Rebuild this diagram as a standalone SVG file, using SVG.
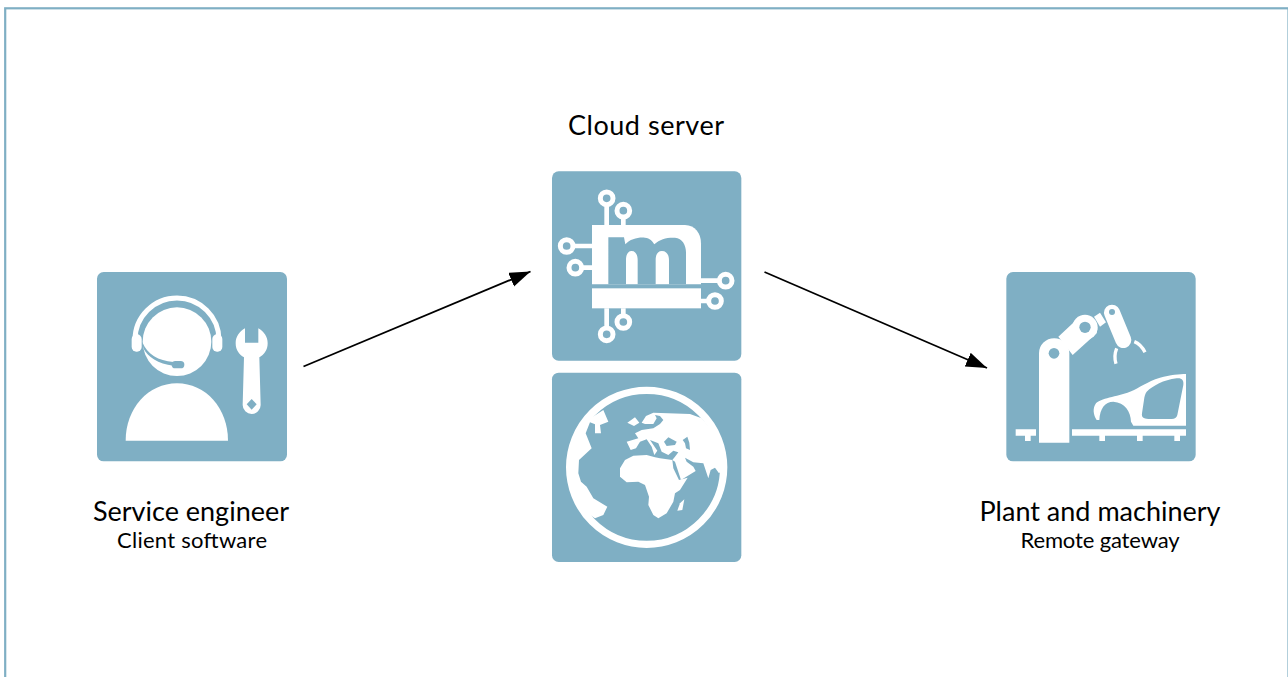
<svg xmlns="http://www.w3.org/2000/svg" width="1288" height="677" viewBox="0 0 1288 677">
<style>
.tile{fill:#7fafc4}
.w{fill:#fff}
.b{fill:#7fafc4}
.t{font-family:"Lato","Liberation Sans",sans-serif;fill:#000;text-anchor:middle}
.t1{font-size:27px}
.t2{font-size:22px}
.tr{stroke:#fff;stroke-width:14;fill:none}
.ring{stroke:#fff;stroke-width:15;fill:#7fafc4}
.cn{stroke:#000;stroke-width:1.8;fill:none;marker-end:url(#ah)}
</style>
<defs>
<marker id="ah" markerUnits="userSpaceOnUse" markerWidth="24" markerHeight="18" refX="21" refY="7.500" orient="auto"><path d="M0 0L21 7.500L0 15Z" fill="#000"/></marker>
</defs>
<rect x="5.200" y="8.300" width="1283.300" height="800" fill="#fff" stroke="#7fafc4" stroke-width="2.200"/>
<g id="connectors">
<line class="cn" x1="303.500" y1="366.500" x2="530.500" y2="271.500"/>
<line class="cn" x1="764.500" y1="272" x2="987" y2="368"/>
</g>
<g id="service-engineer">
<g transform="translate(90 265) scale(.33333)">
<rect class="tile" x="21" y="21" width="570" height="568" rx="20"/>
<path class="w" d="M107 527C107 430 175 355 261 355C347 355 414 430 414 527Z"/>
<circle class="w" cx="261" cy="230" r="103"/>
<path d="M135 225A126 126 0 0 1 387 225" fill="none" stroke="#fff" stroke-width="15"/>
<rect class="w" x="125" y="208" width="30" height="52" rx="14"/>
<rect class="w" x="367" y="208" width="30" height="52" rx="14"/>
<path class="b" d="M157 232C172 268 205 288 250 291L250 302C205 298 172 275 160 250Z"/>
<rect class="b" x="245" y="288" width="38" height="22" rx="11"/>
<path class="w" d="M465 190V233L505 233V190C522 200 533 215 533 235C533 255 522 270 508 277L512 420A27 27 0 0 1 458 420L462 277C448 270 437 255 437 235C437 215 448 200 465 190Z"/>
<path class="b" d="M485 402L500 418L485 434L470 418Z"/>
</g>
<text class="t t1" x="191" y="521">Service engineer</text>
<text class="t t2" x="192" y="548" textLength="150">Client software</text>
</g>
<g id="cloud-server">
<text class="t t1" x="646" y="135" textLength="156">Cloud server</text>
<g transform="translate(545 165) scale(.33333)">
<rect class="tile" x="21" y="19" width="568" height="568" rx="20"/>
<path class="tr" d="M185 120V182M235 155V182M185 430V490M235 430V455M88 243H142M112 308H142M468 347H520M468 408H490"/>
<path class="w" d="M141 180H420C450 180 468 205 468 235V358H141Z"/>
<path class="b" d="M190 217H237L241 238C255 222 280 216 300 218C315 220 322 228 328 238C345 222 365 217 390 218C412 220 423 240 423 262V358H372V285C372 270 365 258 351 258C337 258 332 270 332 285V358H278V285C278 270 272 258 260 258C248 258 243 270 243 285V358H190Z"/>
<rect class="w" x="141" y="370" width="327" height="60"/>
<circle class="ring" cx="185" cy="100" r="19"/>
<circle class="ring" cx="235" cy="137" r="19"/>
<circle class="ring" cx="65" cy="243" r="19"/>
<circle class="ring" cx="91" cy="308" r="19"/>
<circle class="ring" cx="542" cy="347" r="19"/>
<circle class="ring" cx="510" cy="408" r="19"/>
<circle class="ring" cx="185" cy="508" r="19"/>
<circle class="ring" cx="235" cy="471" r="19"/>
</g>
</g>
<g id="globe">
<g transform="translate(545 365) scale(.33333)">
<rect class="tile" x="21" y="23" width="568" height="568" rx="20"/>
<circle cx="305" cy="307" r="231" fill="none" stroke="#fff" stroke-width="22"/>
<path class="w" d="M175 135L190 170L165 180L168 205L150 205L150 178L135 172L122 205L140 250L102 285L100 325L108 350L125 365L145 400L187 425L175 450L150 460L120 440L80 380L70 300L85 220L120 170Z"/>
<path class="w" d="M435 147L325 143L303 153L290 173L300 177L325 177L335 160L330 150L345 153L355 165L345 177L325 190L290 195L270 205L280 220L245 230L257 255L273 250L285 230L305 223L320 245L328 270L337 257L315 225L340 235L350 260L370 270L385 257L400 262L390 275L382 285L390 290L408 345L452 318L445 305L425 290L420 278L445 292L475 295L490 340L497 315L510 308L522 325L540 307L530 240L505 200L470 160Z"/>
<path class="b" d="M357 230L370 217L395 230L390 240L365 243Z"/>
<path class="b" d="M413 225L427 215L433 233L435 255L423 250L420 235Z"/>
<path class="w" d="M247 173L270 157L283 173L267 183Z"/>
<path class="w" d="M225 310L240 285L265 272L305 270L330 277L345 280L382 285L385 310L402 345L428 338L405 375L390 385L385 410L365 445L340 460L325 450L310 420L312 395L300 360L280 350L245 352L225 335Z"/>
<path class="w" d="M405 415L418 403L412 435L397 437Z"/>
</g>
</g>
<g id="plant">
<g transform="translate(1000 265) scale(.33333)">
<rect class="tile" x="19" y="21" width="568" height="568" rx="20"/>
<path class="w" d="M175 215L232 162A38 38 0 0 1 290 205L218 270Z"/>
<circle class="w" cx="255" cy="187" r="38"/>
<circle class="b" cx="255" cy="187" r="17"/>
<path class="w" d="M282 155L300 143L318 172L300 185Z"/>
<path d="M336 143L370 225" stroke="#fff" stroke-width="48" stroke-linecap="round"/>
<circle class="b" cx="336" cy="141" r="9"/>
<path d="M403 230C418 236 428 248 435 262" fill="none" stroke="#fff" stroke-width="10"/>
<path d="M350 250C344 265 343 280 348 296" fill="none" stroke="#fff" stroke-width="10"/>
<path class="w" d="M117 533V265A45.500 45.500 0 0 1 208 265V533Z"/>
<circle class="b" cx="162" cy="265" r="16"/>
<path class="w" d="M47 493H108V512H92V528H75V512H47Z"/>
<path class="w" d="M216 493H558V512H540V528H523V512H428V528H411V512H315V528H298V512H216Z"/>
<path class="w" d="M290 465C280 450 277 430 288 415C300 400 350 395 390 380C420 368 440 350 480 338C510 330 540 327 558 327V482H400L393 470C392 440 375 412 340 410C315 410 300 430 298 465Z"/>
<path class="b" d="M440 380C460 362 490 345 530 340C545 338 552 345 550 360L532 450C530 458 524 462 515 462H445C430 462 424 456 426 445L432 405C433 395 436 385 440 380Z"/>
</g>
<text class="t t1" x="1100" y="521">Plant and machinery</text>
<text class="t t2" x="1100" y="548" textLength="159">Remote gateway</text>
</g>
</svg>
